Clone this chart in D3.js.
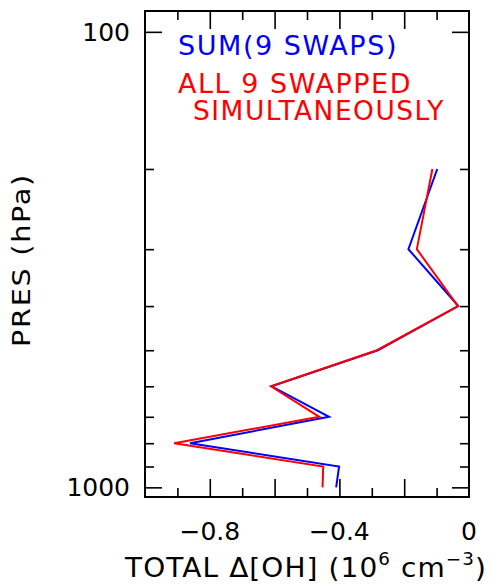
<!DOCTYPE html>
<html><head><meta charset="utf-8">
<script src="https://cdn.jsdelivr.net/npm/d3@7"></script>
<style>
html,body{margin:0;padding:0;background:#fff;}
svg{display:block;}
text{font-family:"DejaVu Sans",sans-serif;}
</style></head>
<body>
<script>
// ---- data ----
const pressures = [200, 300, 400, 500, 600, 700, 800, 900, 1000];
const sumSwaps = [-0.098, -0.187, -0.033, -0.281, -0.609, -0.432, -0.861, -0.401, -0.410];
const allSwapped = [-0.113, -0.161, -0.034, -0.284, -0.611, -0.462, -0.910, -0.450, -0.452];
const xMajorTicks = [-0.8, -0.6, -0.4, -0.2];
const xMinorTicks = [-0.9, -0.7, -0.5, -0.3, -0.1];
const xTickLabels = [-0.8, -0.4, 0];
const yMajorTicks = [100, 1000];
const yMinorTicks = [200, 300, 400, 500, 600, 700, 800, 900];
const legendLines = [
  {text: "SUM(9 SWAPS)", color: "#0000ff"},
  {text: "ALL 9 SWAPPED", color: "#ff0000"},
  {text: "SIMULTANEOUSLY", color: "#ff0000"}
];

const W = 491, H = 585;
const L = 145, R = 469, T = 11, B = 497;

const svg = d3.select("body").append("svg").attr("width", W).attr("height", H);

const x = d3.scaleLinear().domain([-1, 0]).range([L, R]);
const y = d3.scaleLog().domain([90, 1050]).range([T, B]);

const g = svg.append("g");

function axisGroup(axis, tx, ty) {
  const a = g.append("g").attr("transform", `translate(${tx},${ty})`).call(axis);
  a.select(".domain").remove();
  a.selectAll("text").remove();
  a.selectAll("line").attr("stroke", "#000").attr("stroke-width", 1.6);
  return a;
}
// x ticks bottom / top
axisGroup(d3.axisBottom(x).tickValues(xMajorTicks).tickSizeInner(-18).tickSizeOuter(0), 0, B);
axisGroup(d3.axisBottom(x).tickValues(xMinorTicks).tickSizeInner(-9).tickSizeOuter(0), 0, B);
axisGroup(d3.axisTop(x).tickValues(xMajorTicks).tickSizeInner(-18).tickSizeOuter(0), 0, T);
axisGroup(d3.axisTop(x).tickValues(xMinorTicks).tickSizeInner(-9).tickSizeOuter(0), 0, T);
// y ticks left / right
axisGroup(d3.axisLeft(y).tickValues(yMajorTicks).tickSizeInner(-17).tickSizeOuter(0), L, 0);
axisGroup(d3.axisLeft(y).tickValues(yMinorTicks).tickSizeInner(-9).tickSizeOuter(0), L, 0);
axisGroup(d3.axisRight(y).tickValues(yMajorTicks).tickSizeInner(-17).tickSizeOuter(0), R, 0);
axisGroup(d3.axisRight(y).tickValues(yMinorTicks).tickSizeInner(-9).tickSizeOuter(0), R, 0);

// frame
g.append("rect").attr("x", L).attr("y", T).attr("width", R - L).attr("height", B - T)
  .attr("fill", "none").attr("stroke", "#000").attr("stroke-width", 2);

// tick labels
const fmtX = v => v === 0 ? "0" : "\u2212" + Math.abs(v).toFixed(1);
g.selectAll(".xl").data(xTickLabels).enter().append("text")
  .attr("x", d => x(d)).attr("y", 540).attr("text-anchor", "middle")
  .attr("font-size", 25).attr("fill", "#000").text(fmtX);
g.selectAll(".yl").data(yMajorTicks).enter().append("text")
  .attr("x", 130).attr("y", d => y(d) + 9).attr("text-anchor", "end")
  .attr("font-size", 25).attr("fill", "#000").text(d => String(d));

// axis titles
g.append("text").attr("transform", "translate(30,260) rotate(-90)")
  .attr("text-anchor", "middle").attr("font-size", 25).attr("fill", "#000")
  .attr("letter-spacing", 1.5)
  .attr("textLength", 174).attr("lengthAdjust", "spacingAndGlyphs")
  .text("PRES (hPa)");

const xt = g.append("text").attr("x", 125).attr("y", 577).attr("font-size", 26).attr("fill", "#000")
  .attr("letter-spacing", 1)
  .attr("textLength", 362).attr("lengthAdjust", "spacingAndGlyphs");
xt.append("tspan").text("TOTAL \u0394[OH] (10");
xt.append("tspan").attr("font-size", 17).attr("dy", -12).text("6");
xt.append("tspan").attr("dy", 12).text(" cm");
xt.append("tspan").attr("font-size", 17).attr("dy", -12).text("\u22123");
xt.append("tspan").attr("dy", 12).text(")");

// lines
const line = d3.line().x(d => x(d[1])).y(d => y(d[0]));
const series = [
  {vals: sumSwaps, color: "#0000ff"},
  {vals: allSwapped, color: "#ff0000"}
];
series.forEach(s => {
  g.append("path").datum(pressures.map((p, i) => [p, s.vals[i]]))
    .attr("d", line).attr("fill", "none").attr("stroke", s.color).attr("stroke-width", 2);
});

// legend
const legPos = [{x: 178, y: 55, w: 220}, {x: 178, y: 93, w: 234}, {x: 193, y: 120, w: 252}];
legendLines.forEach((l, i) => {
  g.append("text").attr("x", legPos[i].x).attr("y", legPos[i].y)
    .attr("font-size", 26).attr("fill", l.color)
    .attr("letter-spacing", 1.5)
    .attr("textLength", legPos[i].w).attr("lengthAdjust", "spacingAndGlyphs")
    .text(l.text);
});
</script>
</body></html>
